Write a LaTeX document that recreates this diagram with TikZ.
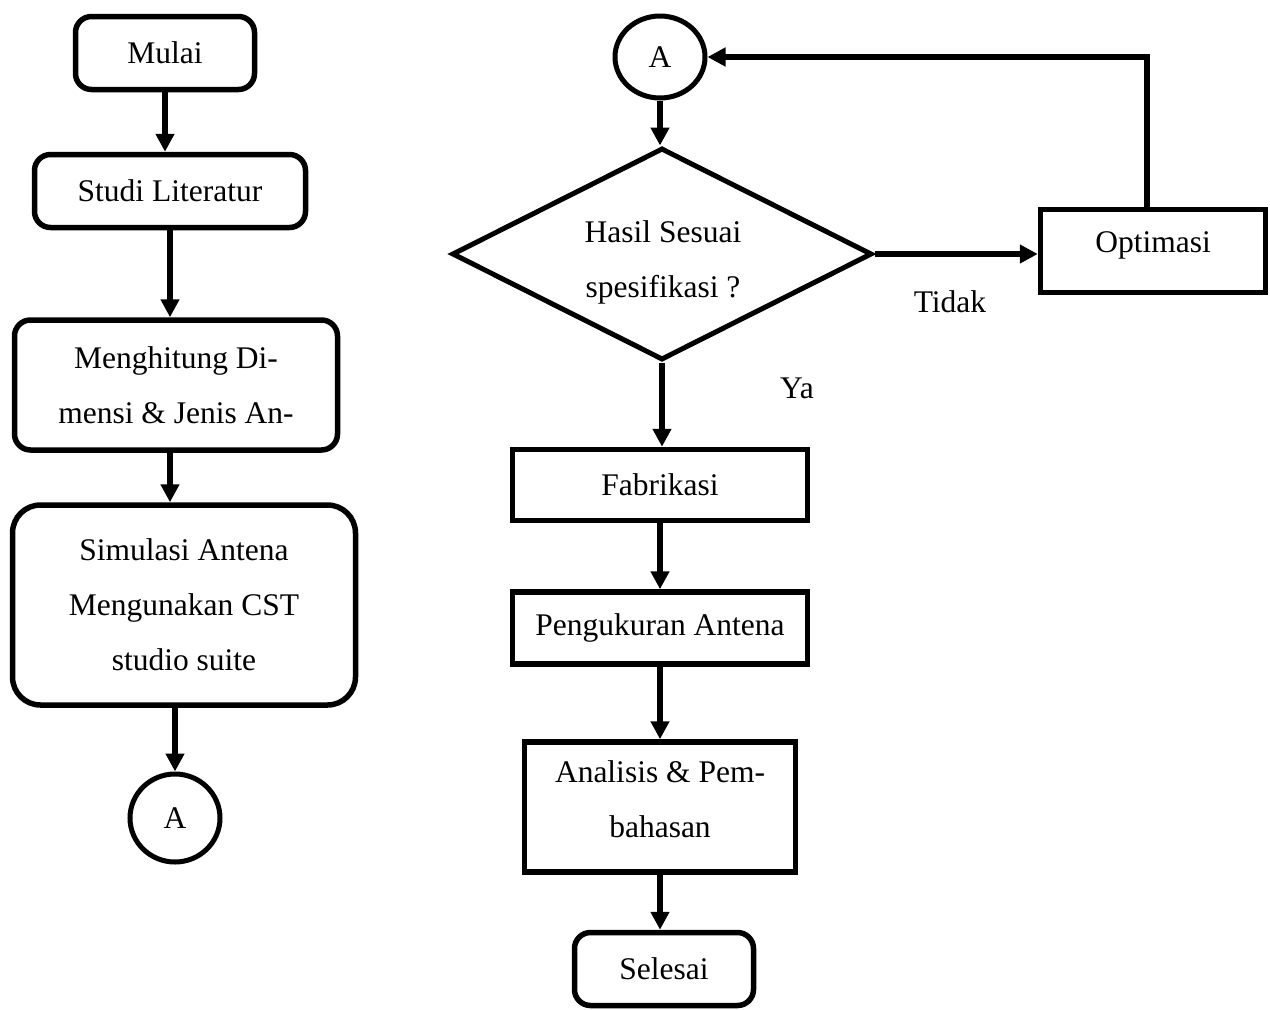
\documentclass[tikz,border=0pt]{standalone}
\usepackage{fontspec}
\setmainfont{Liberation Serif}
\usetikzlibrary{shapes.geometric,arrows.meta}
\begin{document}
\begin{tikzpicture}[x=1pt,y=-1pt,
  every node/.style={font=\fontsize{31.5}{55}\selectfont, inner sep=0pt},
  rbox/.style={draw, line width=5.5pt, rounded corners=16pt, align=center},
  sbox/.style={draw, line width=5.5pt, align=center},
  conn/.style={draw, ellipse, line width=5pt},
  dec/.style={draw, diamond, line width=5pt, minimum width=420pt, minimum height=212pt, aspect=1.96},
  arr/.style={line width=5.5pt, -{Triangle[length=18pt,width=18pt]}},
  lbl/.style={align=center}]
\useasboundingbox (0,0) rectangle (1270,1010);

% left column
\node[rbox, minimum width=179pt, minimum height=73pt] (mulai) at (165,53) {Mulai};
\node[rbox, minimum width=271pt, minimum height=73pt] (studi) at (170,191) {Studi Literatur};
\node[rbox, minimum width=323pt, minimum height=130pt] (hitung) at (176,385) {Menghitung Di-\\mensi \& Jenis An-};
\node[rbox, rounded corners=28pt, minimum width=343pt, minimum height=200pt] (sim) at (184,605) {Simulasi Antena\\Mengunakan CST\\studio suite};
\node[conn, minimum width=90pt, minimum height=88pt] (A1) at (175,818) {A};

\draw[arr] (mulai.south) -- (mulai.south |- studi.north);
\draw[arr] (studi.south) -- (studi.south |- hitung.north);
\draw[arr] ([xshift=-6pt]hitung.south) -- ([xshift=-6pt]hitung.south |- sim.north);
\draw[arr] ([xshift=-9pt]sim.south) -- ([xshift=-9pt]sim.south |- A1.north);

% right column
\node[conn, minimum width=90pt, minimum height=82pt] (A2) at (660,57) {A};
\node[dec] (dec) at (662,254) {};
\node[lbl] (dectext) at (663,262) {Hasil Sesuai\\spesifikasi ?};
\node[sbox, minimum width=225pt, minimum height=83pt] (opt) at (1153,251) {\raisebox{18pt}{Optimasi}};
\node[sbox, minimum width=295pt, minimum height=71pt] (fab) at (660,485) {Fabrikasi};
\node[sbox, minimum width=295pt, minimum height=72pt] (ukur) at (660,628) {Pengukuran Antena};
\node[sbox, minimum width=271pt, minimum height=130pt] (anal) at (660,807) {};
\node[lbl] (analtext) at (660,799) {Analisis \& Pem-\\bahasan};
\node[rbox, minimum width=179pt, minimum height=73pt] (sel) at (664,969) {Selesai};

\node[lbl] (tidak) at (950,302) {Tidak};
\node[lbl] (ya) at (797,388) {Ya};

\draw[arr] (A2.south) -- (A2.south |- dec.north);
\draw[arr] (dec.east) -- (dec.east -| opt.west);
\draw[arr] ([xshift=-6pt]opt.north) |- (A2.east);
\draw[arr] (dec.south) -- (dec.south |- fab.north);
\draw[arr] (fab.south) -- (fab.south |- ukur.north);
\draw[arr] (ukur.south) -- (ukur.south |- anal.north);
\draw[arr] (anal.south) -- (anal.south |- sel.north);
\end{tikzpicture}
\end{document}
